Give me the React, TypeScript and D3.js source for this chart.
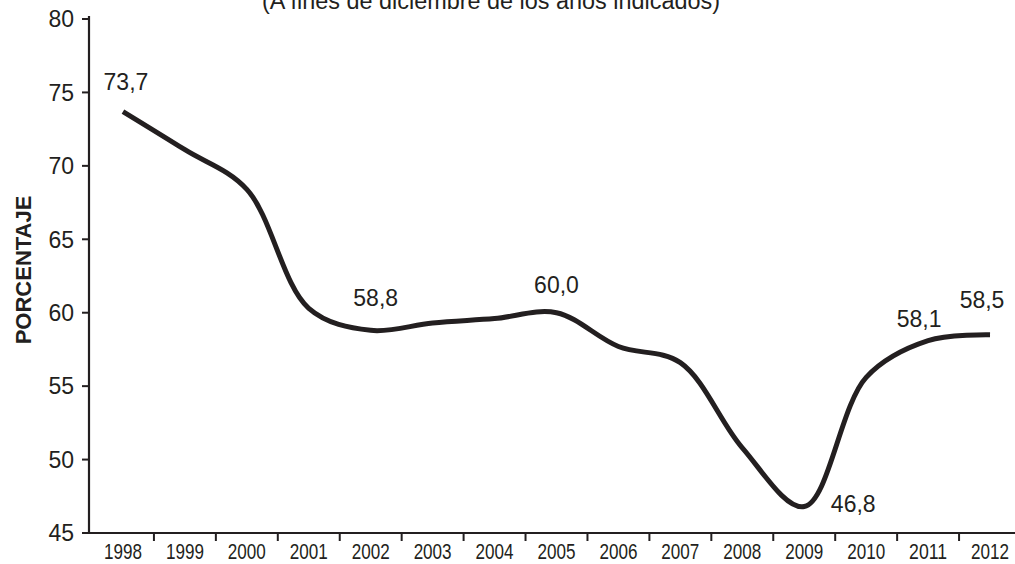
import React from "react";
import * as d3 from "d3";

const years = ["1998","1999","2000","2001","2002","2003","2004","2005","2006","2007","2008","2009","2010","2011","2012"];
const values = [73.7, 71.1, 68.4, 60.3, 58.8, 59.3, 59.6, 60.0, 57.7, 56.6, 50.8, 46.8, 55.6, 58.1, 58.5];
const labeledYears = ["1998","2002","2005","2009","2011","2012"];
const labelText = ["73,7","58,8","60,0","46,8","58,1","58,5"];
const yTicks = [45, 50, 55, 60, 65, 70, 75, 80];
const title = "(A fines de diciembre de los años indicados)";
const yTitle = "PORCENTAJE";

const W = 1015, H = 564;
const axisX = 89;
const ink = "#231f20";

export default function App() {
  const x = d3.scaleBand<string>().domain(years).range([92, 1021]).padding(0);
  const y = d3.scaleLinear().domain([45, 80]).range([533, 19]);
  const cx = (yr: string) => (x(yr) as number) + x.bandwidth() / 2;
  const line = d3
    .line<number>()
    .x((_, i) => cx(years[i]))
    .y((v) => y(v))
    .curve(d3.curveCatmullRom.alpha(0.5));
  const boundaries = years.slice(1).map((yr) => x(yr) as number);
  const labelPos: Record<string, { dx: number; dy: number }> = {
    "1998": { dx: 3, dy: -22 },
    "2002": { dx: 5, dy: -24 },
    "2005": { dx: 0, dy: -20 },
    "2009": { dx: 49, dy: 5 },
    "2011": { dx: -9, dy: -14 },
    "2012": { dx: -8, dy: -27 },
  };
  return (
    <div style={{ position: "absolute", left: 0, top: 0, width: W, height: H, background: "#fff" }}>
      <svg width={W} height={H} style={{ display: "block", fontFamily: "Arial, 'Liberation Sans', sans-serif" }}>
        <text x={491} y={9} textAnchor="middle" fontSize={23} fill={ink} textLength={458} lengthAdjust="spacingAndGlyphs">{title}</text>
        <line x1={axisX} x2={axisX} y1={y(80) - 3} y2={y(45) + 1} stroke={ink} strokeWidth={2.2} />
        {yTicks.map((t) => (
          <g key={t}>
            <line x1={axisX - 7} x2={axisX} y1={y(t)} y2={y(t)} stroke={ink} strokeWidth={2} />
            <text x={74} y={y(t)} dy="0.36em" textAnchor="end" fontSize={23} fill={ink}>{t}</text>
          </g>
        ))}
        <text transform={`translate(31,270) rotate(-90)`} textAnchor="middle" fontSize={22} fontWeight="bold" fill={ink}>{yTitle}</text>
        <line x1={axisX - 1} x2={W} y1={y(45)} y2={y(45)} stroke={ink} strokeWidth={2.2} />
        {boundaries.map((b, i) => (
          <line key={i} x1={b} x2={b} y1={y(45)} y2={y(45) + 8} stroke={ink} strokeWidth={2} />
        ))}
        {years.map((yr) => (
          <text key={yr} x={cx(yr)} y={559} textAnchor="middle" fontSize={22} fill={ink}
            textLength={38} lengthAdjust="spacingAndGlyphs">{yr}</text>
        ))}
        <path d={line(values) || ""} fill="none" stroke={ink} strokeWidth={5} strokeLinejoin="round" />
        {labeledYears.map((yr, i) => {
          const v = values[years.indexOf(yr)];
          const p = labelPos[yr];
          return (
            <text key={yr} x={cx(yr) + p.dx} y={y(v) + p.dy} textAnchor="middle" fontSize={23} fill={ink}>{labelText[i]}</text>
          );
        })}
      </svg>
    </div>
  );
}
